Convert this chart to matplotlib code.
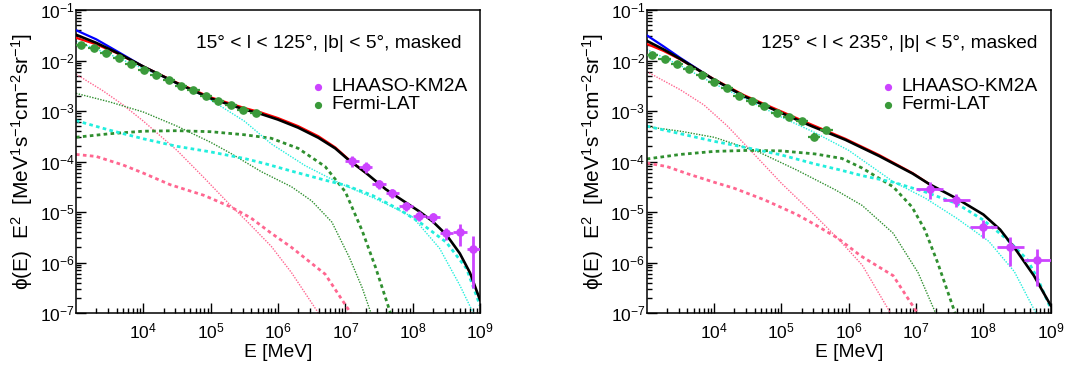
import matplotlib
matplotlib.use("Agg")
import matplotlib.pyplot as plt
import numpy as np
from matplotlib.ticker import FixedLocator, FuncFormatter, NullFormatter

plt.rcParams['font.family'] = ['Liberation Sans', 'DejaVu Sans']
plt.rcParams['mathtext.fontset'] = 'custom'
plt.rcParams['mathtext.rm'] = 'Liberation Sans'
plt.rcParams['mathtext.it'] = 'Liberation Sans:italic'

# ─── data: log10(E / MeV) and log10(flux) ────────────────────────────────────
# left panel: 15 < l < 125
le_black_l = [3.0, 3.3, 3.6, 4.0, 4.5, 5.0, 5.5, 5.75, 6.0, 6.3, 6.6, 6.85, 7.05,
              7.3, 7.6, 7.85, 8.1, 8.3, 8.5, 8.7, 8.85, 9.0]
lf_black_l = [-1.49, -1.65, -1.84, -2.12, -2.45, -2.75, -2.97, -3.06, -3.17, -3.33,
              -3.53, -3.74, -3.97, -4.22, -4.55, -4.77, -4.99, -5.19, -5.45, -5.82,
              -6.20, -6.74]
le_red_l = [3.0, 3.3, 3.6, 4.0, 4.5, 5.0, 5.5, 5.75, 6.0, 6.3, 6.6, 6.85, 7.05, 7.3]
lf_red_l = [-1.55, -1.68, -1.85, -2.12, -2.44, -2.73, -2.94, -3.03, -3.14, -3.30,
            -3.50, -3.72, -3.96, -4.22]
le_blue_l = [3.0, 3.3, 3.6, 4.0, 4.5]
lf_blue_l = [-1.40, -1.58, -1.81, -2.12, -2.45]
le_cyan_dot_l = [3.0, 3.5, 4.0, 4.5, 5.0, 5.5, 5.9, 6.4, 6.9, 7.5, 8.0, 8.4, 8.7, 8.9]
lf_cyan_dot_l = [-1.62, -1.88, -2.16, -2.44, -2.78, -3.20, -3.65, -4.08, -4.42, -4.77,
                 -5.10, -5.72, -6.45, -7.0]
le_cyan_dash_l = [3.0, 3.5, 4.0, 4.5, 5.0, 5.5, 5.8, 6.2, 6.7, 7.0, 7.4, 7.8, 8.1,
                  8.5, 8.8, 9.0]
lf_cyan_dash_l = [-3.19, -3.38, -3.55, -3.70, -3.81, -3.94, -4.04, -4.19, -4.37, -4.47,
                  -4.67, -4.95, -5.20, -5.60, -6.12, -6.85]
le_green_dot_l = [3.0, 3.5, 4.0, 4.5, 5.0, 5.3, 5.75, 6.2, 6.5, 6.8, 7.06, 7.25, 7.38]
lf_green_dot_l = [-2.65, -2.82, -3.02, -3.30, -3.62, -3.84, -4.20, -4.50, -4.78, -5.20,
                  -5.90, -6.50, -7.0]
le_green_dash_l = [3.0, 3.5, 4.0, 4.5, 5.0, 5.5, 5.9, 6.3, 6.7, 7.0, 7.25, 7.45, 7.67]
lf_green_dash_l = [-3.52, -3.45, -3.40, -3.39, -3.41, -3.47, -3.54, -3.74, -4.10, -4.60,
                   -5.37, -6.10, -7.0]
le_pink_dot_l = [3.0, 3.4, 3.7, 4.0, 4.5, 4.9, 5.26, 5.55, 5.9, 6.2, 6.6]
lf_pink_dot_l = [-2.27, -2.60, -2.88, -3.20, -3.78, -4.32, -4.82, -5.20, -5.68, -6.20,
                 -7.0]
le_pink_dash_l = [3.0, 3.3, 3.7, 4.0, 4.4, 4.9, 5.3, 5.6, 5.9, 6.2, 6.7, 7.08]
lf_pink_dash_l = [-3.86, -3.90, -4.07, -4.23, -4.46, -4.67, -4.90, -5.12, -5.42, -5.70,
                  -6.23, -7.0]

# right panel: 125 < l < 235
le_black_r = [3.0, 3.25, 3.5, 4.0, 4.45, 4.95, 5.45, 5.95, 6.45, 6.95, 7.2, 7.6, 8.0,
              8.25, 8.5, 8.75, 9.0]
lf_black_r = [-1.61, -1.78, -1.97, -2.38, -2.71, -3.01, -3.30, -3.57, -3.89, -4.24,
              -4.45, -4.73, -5.05, -5.35, -5.78, -6.26, -6.85]
le_red_r = [3.0, 3.25, 3.5, 4.0, 4.45, 4.95, 5.45, 5.95, 6.45, 6.95, 7.2]
lf_red_r = [-1.67, -1.81, -1.98, -2.37, -2.69, -2.98, -3.27, -3.55, -3.87, -4.23,
            -4.45]
le_blue_r = [3.0, 3.25, 3.5, 4.0, 4.45]
lf_blue_r = [-1.50, -1.72, -1.95, -2.38, -2.71]
le_cyan_dot_r = [3.0, 3.5, 4.0, 4.5, 5.0, 5.5, 6.0, 6.66, 7.13, 7.6, 8.08, 8.46, 8.78]
lf_cyan_dot_r = [-1.78, -2.10, -2.46, -2.78, -3.12, -3.43, -3.78, -4.40, -4.72, -5.12,
                 -5.58, -6.18, -7.0]
le_cyan_dash_r = [3.0, 3.5, 4.0, 4.5, 5.0, 5.5, 5.85, 6.2, 6.66, 7.13, 7.6, 8.0, 8.36,
                  8.65, 8.8, 9.0]
lf_cyan_dash_r = [-3.30, -3.45, -3.60, -3.73, -3.87, -4.05, -4.16, -4.28, -4.41, -4.60,
                  -4.83, -5.16, -5.55, -5.94, -6.30, -6.91]
le_green_dot_r = [3.0, 3.5, 4.0, 4.66, 5.23, 5.8, 6.2, 6.66, 7.03, 7.29]
lf_green_dot_r = [-3.31, -3.40, -3.52, -3.81, -4.17, -4.56, -4.87, -5.42, -6.20, -7.0]
le_green_dash_r = [3.0, 3.5, 4.0, 4.5, 5.0, 5.5, 5.9, 6.2, 6.66, 6.94, 7.13, 7.32, 7.58]
lf_green_dash_r = [-3.95, -3.86, -3.80, -3.78, -3.79, -3.85, -3.94, -4.13, -4.50, -4.90,
                   -5.35, -6.0, -7.0]
le_pink_dot_r = [3.0, 3.5, 3.85, 4.2, 4.5, 5.0, 5.5, 5.85, 6.2, 6.62]
lf_pink_dot_r = [-2.22, -2.58, -2.88, -3.30, -3.72, -4.43, -5.07, -5.54, -6.05, -7.0]
le_pink_dash_r = [3.0, 3.3, 3.6, 4.0, 4.3, 4.75, 5.23, 5.5, 5.84, 6.18, 6.66, 7.02]
lf_pink_dash_r = [-4.03, -4.10, -4.24, -4.41, -4.53, -4.76, -5.05, -5.25, -5.52, -5.87,
                  -6.26, -7.0]

# Fermi-LAT points (same energy bins in both regions)
le_fermi = [3.08, 3.265, 3.45, 3.635, 3.82, 4.005, 4.19, 4.375, 4.56, 4.745, 4.93,
            5.115, 5.30, 5.485, 5.67]
fermi_halfbin = 0.09
lf_fermi_l = [-1.69, -1.76, -1.85, -1.95, -2.06, -2.18, -2.28, -2.39, -2.51, -2.59,
              -2.71, -2.80, -2.88, -2.98, -3.03]
lf_fermi_r = [-1.90, -1.97, -2.06, -2.16, -2.29, -2.43, -2.55, -2.70, -2.80, -2.91,
              -3.03, -3.12, -3.20, -3.51, -3.37]
dex_err_fermi_l = [0.03] * 12 + [0.04, 0.04, 0.04]
dex_err_fermi_r = [0.03] * 12 + [0.04, 0.07, 0.06]

# LHAASO-KM2A points
le_km2a_l = [7.1, 7.3, 7.5, 7.7, 7.9, 8.1, 8.3, 8.5, 8.7, 8.9]
km2a_halfbin_l = 0.1
lf_km2a_l = [-3.99, -4.11, -4.45, -4.62, -4.88, -5.07, -5.10, -5.42, -5.40, -5.74]
err_km2a_l = [2.5e-5, 1.8e-5, 7.5e-6, 5e-6, 2.7e-6, 1.8e-6, 1.8e-6, 1.0e-6, 1.85e-6,
              1.5e-6]
le_km2a_r = [7.2, 7.6, 8.0, 8.4, 8.8]
km2a_halfbin_r = 0.2
lf_km2a_r = [-4.54, -4.76, -5.30, -5.69, -5.96]
err_km2a_r = [1.1e-5, 5e-6, 1.9e-6, 1.2e-6, 7.5e-7]

titles = ["15° < l < 125°, |b| < 5°, masked", "125° < l < 235°, |b| < 5°, masked"]
x_major = [1e4, 1e5, 1e6, 1e7, 1e8, 1e9]
y_major = [1e-7, 1e-6, 1e-5, 1e-4, 1e-3, 1e-2, 1e-1]

# ─── style ───────────────────────────────────────────────────────────────────
C_CYAN = "#22eedd"
C_GREEN = "#2f8f2f"
C_PINK = "#ff6690"
C_MAG = "#cc44ff"
C_FERMI = "#3a9a3a"
FS = 13.8


def p(a):
    return 10.0 ** np.asarray(a, dtype=float)


def thick(ax, le, lf, col):
    ax.plot(p(le), p(lf), color=col, lw=2.0, dashes=(1.3, 1.2), zorder=2)


def thin(ax, le, lf, col):
    ax.plot(p(le), p(lf), color=col, lw=1.0, dashes=(1.0, 1.0), zorder=2)


def minor_ticks(lo, hi):
    return [m * 10.0 ** k for k in range(lo, hi) for m in range(2, 10)]


def draw(ax, d, title, title_x):
    thin(ax, d["pink_dot"][0], d["pink_dot"][1], C_PINK)
    thick(ax, d["pink_dash"][0], d["pink_dash"][1], C_PINK)
    thin(ax, d["green_dot"][0], d["green_dot"][1], C_GREEN)
    thick(ax, d["green_dash"][0], d["green_dash"][1], C_GREEN)
    thin(ax, d["cyan_dot"][0], d["cyan_dot"][1], C_CYAN)
    thick(ax, d["cyan_dash"][0], d["cyan_dash"][1], C_CYAN)
    ax.plot(p(d["blue"][0]), p(d["blue"][1]), color="#0000ff", lw=1.6, zorder=3)
    ax.plot(p(d["red"][0]), p(d["red"][1]), color="#ff0000", lw=1.6, zorder=3)
    ax.plot(p(d["black"][0]), p(d["black"][1]), color="black", lw=1.9, zorder=3)

    # Fermi-LAT
    le = np.asarray(le_fermi)
    y = p(d["fermi"][0])
    dx = np.vstack([p(le) - p(le - fermi_halfbin), p(le + fermi_halfbin) - p(le)])
    de = np.asarray(d["fermi"][1])
    dy = np.vstack([y - y * 10 ** (-de), y * 10 ** de - y])
    ax.errorbar(p(le), y, xerr=dx, yerr=dy, fmt="o", ms=5.2, color=C_FERMI,
                mec=C_FERMI, elinewidth=1.6, capsize=0, zorder=5)

    # LHAASO-KM2A
    le, lf, err, hb = d["km2a"]
    le = np.asarray(le)
    dx = np.vstack([p(le) - p(le - hb), p(le + hb) - p(le)])
    ax.errorbar(p(le), p(lf), xerr=dx, yerr=err, fmt="o", ms=5.2, color=C_MAG,
                mec=C_MAG, elinewidth=2.0, capsize=0, zorder=6)

    ax.set_xscale("log")
    ax.set_yscale("log")
    ax.set_xlim(1e3, 1e9)
    ax.set_ylim(1e-7, 1e-1)
    ax.xaxis.set_major_locator(FixedLocator(x_major))
    ax.xaxis.set_minor_locator(FixedLocator(minor_ticks(3, 9)))
    ax.yaxis.set_major_locator(FixedLocator(y_major))
    ax.yaxis.set_minor_locator(FixedLocator(minor_ticks(-7, -1)))
    fmt = FuncFormatter(lambda v, pos: r"$\mathregular{10^{%d}}$" % round(np.log10(v)))
    ax.xaxis.set_major_formatter(fmt)
    ax.yaxis.set_major_formatter(fmt)
    ax.xaxis.set_minor_formatter(NullFormatter())
    ax.yaxis.set_minor_formatter(NullFormatter())
    ax.tick_params(which="both", direction="in", top=False, right=False,
                   labelsize=12.5, width=1.0)
    ax.tick_params(which="major", length=7.5)
    ax.tick_params(which="minor", length=3.8)
    ax.tick_params(axis="x", pad=6)
    ax.tick_params(axis="y", pad=1)
    for s in ax.spines.values():
        s.set_linewidth(1.1)

    ax.set_xlabel("E [MeV]", fontsize=FS, labelpad=2)
    ax.set_ylabel("ϕ(E)  E$^{2}$  [MeV$^{1}$s$^{-1}$cm$^{-2}$sr$^{-1}$]",
                  fontsize=15, labelpad=3)

    ax.text(title_x, 0.875, title, transform=ax.transAxes, ha="right",
            va="baseline", fontsize=FS)

    lx = 0.598
    for yy, col, lab in [(0.747, C_MAG, "LHAASO-KM2A"), (0.688, C_FERMI, "Fermi-LAT")]:
        ax.plot([lx], [yy], "o", ms=4.2, color=col, transform=ax.transAxes,
                clip_on=False, zorder=7)
        ax.text(lx + 0.033, yy, lab, transform=ax.transAxes, ha="left",
                va="center", fontsize=FS)


left = {
    "black": (le_black_l, lf_black_l), "red": (le_red_l, lf_red_l),
    "blue": (le_blue_l, lf_blue_l),
    "cyan_dot": (le_cyan_dot_l, lf_cyan_dot_l), "cyan_dash": (le_cyan_dash_l, lf_cyan_dash_l),
    "green_dot": (le_green_dot_l, lf_green_dot_l), "green_dash": (le_green_dash_l, lf_green_dash_l),
    "pink_dot": (le_pink_dot_l, lf_pink_dot_l), "pink_dash": (le_pink_dash_l, lf_pink_dash_l),
    "fermi": (lf_fermi_l, dex_err_fermi_l),
    "km2a": (le_km2a_l, lf_km2a_l, err_km2a_l, km2a_halfbin_l),
}
right = {
    "black": (le_black_r, lf_black_r), "red": (le_red_r, lf_red_r),
    "blue": (le_blue_r, lf_blue_r),
    "cyan_dot": (le_cyan_dot_r, lf_cyan_dot_r), "cyan_dash": (le_cyan_dash_r, lf_cyan_dash_r),
    "green_dot": (le_green_dot_r, lf_green_dot_r), "green_dash": (le_green_dash_r, lf_green_dash_r),
    "pink_dot": (le_pink_dot_r, lf_pink_dot_r), "pink_dash": (le_pink_dash_r, lf_pink_dash_r),
    "fermi": (lf_fermi_r, dex_err_fermi_r),
    "km2a": (le_km2a_r, lf_km2a_r, err_km2a_r, km2a_halfbin_r),
}

fig = plt.figure(figsize=(10.88, 3.68), dpi=100)
ax_l = fig.add_axes([76 / 1088, 55 / 368, 404 / 1088, 303 / 368])
ax_r = fig.add_axes([646.7 / 1088, 55 / 368, 404 / 1088, 303 / 368])
draw(ax_l, left, titles[0], 0.955)
draw(ax_r, right, titles[1], 0.966)
fig.savefig("out.png", dpi=100)
